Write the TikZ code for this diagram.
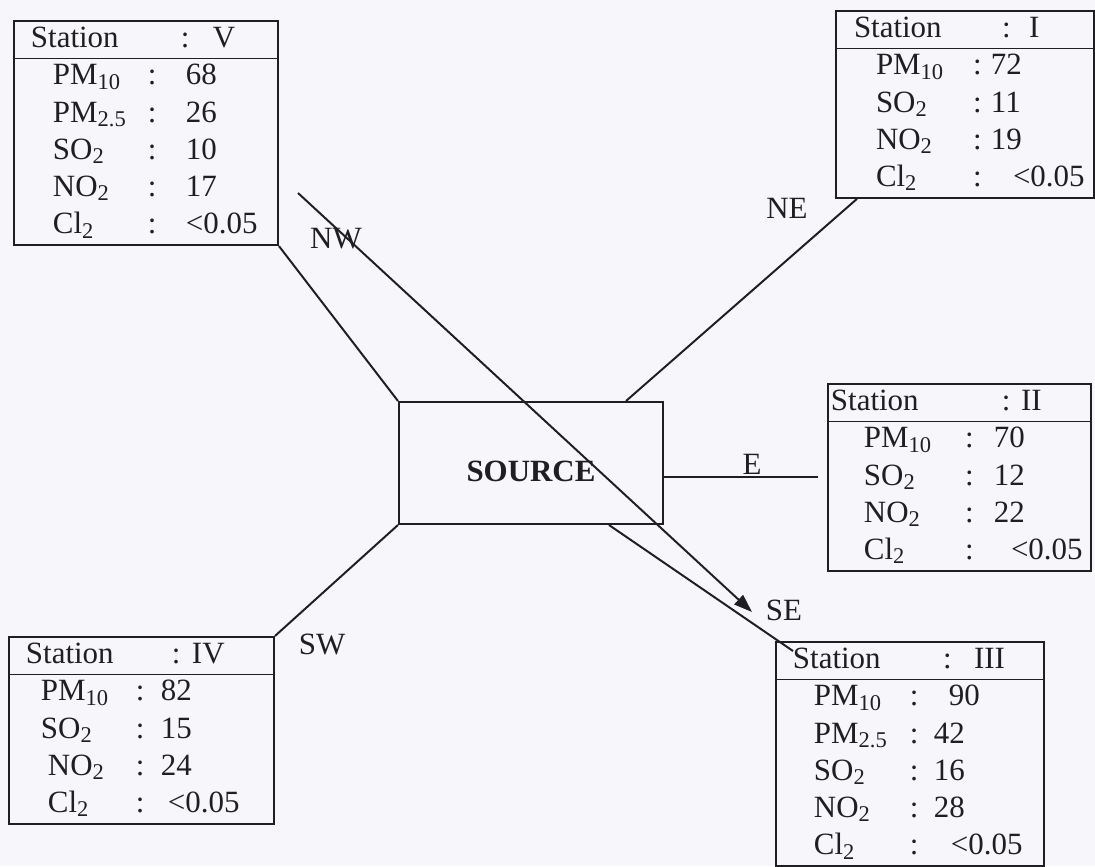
\documentclass[tikz,border=0pt]{standalone}
\usepackage{fontspec}
\setmainfont{Liberation Serif}
\usetikzlibrary{calc,arrows.meta}
\newdimen\px \px=0.025cm
\newcommand{\chemsub}[1]{\raisebox{-3pt}{\fontsize{16}{16}\selectfont #1}}
\definecolor{paper}{RGB}{247,246,250}
\definecolor{ink}{RGB}{30,30,35}

\begin{document}
\begin{tikzpicture}[x=0.025cm,y=-0.025cm,
  every node/.style={text=ink,font=\fontsize{22}{26.5}\selectfont},
  stbox/.style={draw=ink,line width=1.4pt,inner sep=0pt,anchor=north west},
  link/.style={draw=ink,line width=1.4pt}]

\path[use as bounding box,fill=paper] (0,0) rectangle (1095,866);

%Source
\node (src) at (531,463) [draw=ink,line width=1.4pt,minimum width=6.6cm,minimum height=3.05cm,text height=26pt,text depth=0pt] {\textbf{SOURCE}};

%Stations
\node (st5) at (13,20) [stbox] {\begin{tabular}{@{\hspace{39\px}}p{95\px}@{}p{38\px}@{}p{92\px}@{}}
\multicolumn{3}{@{\hspace{17\px}}l@{}}{\makebox[150\px][l]{Station}\makebox[32\px][l]{:}V}\\ \hline
PM\chemsub{10} & : & 68\\
PM\chemsub{2.5} & : & 26\\
SO\chemsub{2} & : & 10\\
NO\chemsub{2} & : & 17\\
Cl\chemsub{2} & : & <0.05
\end{tabular}};

\node (st1) at (835,10) [stbox] {\begin{tabular}{@{\hspace{40\px}}p{97\px}@{}p{18\px}@{}p{103\px}@{}}
\multicolumn{3}{@{\hspace{18\px}}l@{}}{\makebox[148\px][l]{Station}\makebox[27\px][l]{:}I}\\ \hline
PM\chemsub{10} & : & 72\\
SO\chemsub{2} & : & 11\\
NO\chemsub{2} & : & 19\\
Cl\chemsub{2} & : & \hspace{22\px}<0.05
\end{tabular}};

\node (st2) at (827,383) [stbox] {\begin{tabular}{@{\hspace{36\px}}p{101\px}@{}p{29\px}@{}p{97\px}@{}}
\multicolumn{3}{@{\hspace{3\px}}l@{}}{\makebox[171\px][l]{Station}\makebox[19\px][l]{:}II}\\ \hline
PM\chemsub{10} & : & 70\\
SO\chemsub{2} & : & 12\\
NO\chemsub{2} & : & 22\\
Cl\chemsub{2} & : & \hspace{17\px}<0.05
\end{tabular}};

\node (st4) at (8,636) [stbox] {\begin{tabular}{@{\hspace{32\px}}p{95\px}@{}p{25\px}@{}p{113\px}@{}}
\multicolumn{3}{@{\hspace{17\px}}l@{}}{\makebox[146\px][l]{Station}\makebox[20\px][l]{:}IV}\\ \hline
PM\chemsub{10} & : & 82\\
SO\chemsub{2} & : & 15\\
\hspace{7\px}NO\chemsub{2} & : & 24\\
\hspace{7\px}Cl\chemsub{2} & : & \hspace{7\px}<0.05
\end{tabular}};

\node (st3) at (775,641) [stbox] {\begin{tabular}{@{\hspace{38\px}}p{96\px}@{}p{24\px}@{}p{110\px}@{}}
\multicolumn{3}{@{\hspace{17\px}}l@{}}{\makebox[150\px][l]{Station}\makebox[31\px][l]{:}III}\\ \hline
PM\chemsub{10} & : & \hspace{15\px}90\\
PM\chemsub{2.5} & : & 42\\
SO\chemsub{2} & : & 16\\
NO\chemsub{2} & : & 28\\
Cl\chemsub{2} & : & \hspace{17\px}<0.05
\end{tabular}};

%Directions
\draw[link] (st5.south east) -- (src.north west);
\draw[link] ($(src.north west)+(228,0)$) -- ($(st1.south west)+(22,0)$);
\draw[link] (src.east |- st2.west) -- ($(st2.west)+(-9,0)$);
\draw[link] (src.south west) -- (st4.north east);
\draw[link] ($(src.south west)+(211,0)$) -- ($(st3.north west)+(18,10)$);

%Wind
\coordinate (wind) at (298,193);
\coordinate (windend) at (752,612);
\draw[link,-{Triangle[length=13pt,width=9pt]}] (wind) -- (windend);

\node (lblnw) at (336,239) {NW};
\node (lblne) at (787,208) {NE};
\node (lble)  at (752,464) {E};
\node (lblse) at (784,610) {SE};
\node (lblsw) at (322,644) {SW};

\end{tikzpicture}
\end{document}
